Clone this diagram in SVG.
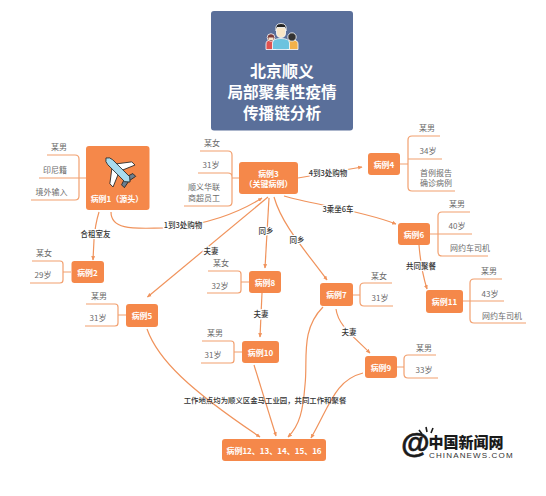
<svg xmlns="http://www.w3.org/2000/svg" width="546" height="496" viewBox="0 0 546 496">
<style>
text{font-family:"Noto Sans CJK SC","Noto Sans",sans-serif;text-anchor:middle;dominant-baseline:central}
.box{fill:#f5884a}
.n{fill:#fff;font-size:8px;font-weight:700}
.a{fill:#6b6b6b;font-size:8px}
.s{fill:#6b6b6b;font-size:8px;text-anchor:start}
.b{fill:none;stroke:#f2a06f;stroke-width:1.2}
.c{fill:none;stroke:#f0935c;stroke-width:1.2;marker-end:url(#ah)}
.l{fill:#333;font-size:7.5px;font-weight:500;paint-order:stroke;stroke:#fff;stroke-width:2.5px}
</style>
<defs>
<marker id="ah" viewBox="0 0 8 8" refX="7" refY="4" markerWidth="4.5" markerHeight="4.5" orient="auto" markerUnits="userSpaceOnUse"><path d="M0 0.5L8 4L0 7.500Z" fill="#f0935c"/></marker>
</defs>
<rect width="546" height="496" fill="#fff"/>

<g id="title">
<rect x="211" y="11" width="142" height="119.500" rx="3" fill="#5a6f9a"/>
<g id="people" stroke="#fff" stroke-width=".8">
<path d="M266 49.500V44q0-4 5-4t5 4V49.500Z" fill="#e0524f"/>
<circle cx="271" cy="37.500" r="3.800" fill="#7a3b3b"/>
<path d="M268.500 37.500h5v2.500h-5z" fill="#f7e3c8" stroke="none"/>
<path d="M287 49.500V44q0-4 5.500-4t5.500 4V49.500Z" fill="#f3b14a"/>
<circle cx="292" cy="37" r="4.200" fill="#333"/>
<path d="M272.500 49.500V43q0-4.500 8.500-4.500t8.500 4.500V49.500Z" fill="#6cc3df"/>
<path d="M276.500 27h9v6q0 4.500-4.500 4.500t-4.500-4.500Z" fill="#f9e7c7"/>
<path d="M276 31q-1.500-7.500 5-7.500t5 7.500l-1-3.500h-8Z" fill="#222"/>
</g>
<text x="282" y="70" font-size="16" font-weight="700" fill="#fff">北京顺义</text>
<text x="282" y="91" font-size="15.600" font-weight="700" fill="#fff">局部聚集性疫情</text>
<text x="282" y="112" font-size="15.600" font-weight="700" fill="#fff">传播链分析</text>
</g>

<g id="connectors">
<path class="c" d="M99 212Q95 225 94 240L93 260"/>
<path class="c" d="M111 212C111 232 140 228 165 228C205 226 240 212 262 198"/>
<path class="c" d="M298 178L362 167"/>
<path class="c" d="M284 196C310 204 360 210 396 224"/>
<path class="c" d="M268 197L147.500 297"/>
<path class="c" d="M269 198L265 268"/>
<path class="c" d="M274 197C282 225 305 250 327 280"/>
<path class="c" d="M419 245Q421 270 427 289"/>
<path class="c" d="M262 293L260 337"/>
<path class="c" d="M147 329C158 360 190 390 260 437"/>
<path class="c" d="M254 365L276 436"/>
<path class="c" d="M323 307C300 330 308 360 305 385C303 410 300 425 288 437"/>
<path class="c" d="M363 373C335 380 330 405 311 438"/>
<path class="c" d="M336 309C338 325 352 335 370 353"/>
<text class="l" x="95.500" y="233">合租室友</text>
<text class="l" x="183" y="224">1到3处购物</text>
<text class="l" x="328" y="172">4到3处购物</text>
<text class="l" x="338" y="208">3乘坐6车</text>
<text class="l" x="211" y="250">夫妻</text>
<text class="l" x="266" y="230">同乡</text>
<text class="l" x="297" y="239">同乡</text>
<text class="l" x="421" y="265">共同聚餐</text>
<text class="l" x="261" y="313">夫妻</text>
<text class="l" x="349" y="331">夫妻</text>
<text x="265" y="399" fill="#333" font-size="7.400" font-weight="500">工作地点均为顺义区金马工业园，共同工作和聚餐</text>
</g>

<g id="case1">
<rect class="box" x="86" y="146" width="63.500" height="64" rx="3"/>
<g id="plane" transform="translate(118 170) rotate(45)" stroke="#222" stroke-width=".8" stroke-linejoin="round">
<path d="M-6 -2.500L4 -15.500H8.500L3 -2.500Z" fill="#fff"/>
<path d="M-6 2.500L4 15.500H8.500L3 2.500Z" fill="#fff"/>
<path d="M11 -2L13 -8H17L15.500 0L17 8H13L11 2Z" fill="#6d7f8f"/>
<path d="M-17 0Q-15 -3.500 -11 -3.500H13L17 0L13 3.500H-11Q-15 3.500 -17 0Z" fill="#a9dcef"/>
</g>
<text class="n" x="117" y="198.500">病例1（源头）</text>
<path class="b" d="M47 155H75q4 0 4 4V196q0 4-4 4H31M39 178H86"/>
<text class="a" x="59" y="146">某男</text>
<text class="a" x="55" y="169">印尼籍</text>
<text class="a" x="51.500" y="191">境外输入</text>
</g>

<g id="case2">
<rect class="box" x="71.500" y="261" width="32.500" height="22" rx="3"/>
<text class="n" x="87.500" y="272">病例2</text>
<path class="b" d="M32 261H60q3 0 3 3V280q0 3-3 3H30M63 272H71"/>
<text class="a" x="44" y="252">某女</text>
<text class="a" x="43" y="274">29岁</text>
</g>

<g id="case3">
<rect class="box" x="239" y="162" width="59" height="32" rx="3"/>
<text class="n" x="268.500" y="173">病例3</text>
<text class="n" x="268.500" y="183.500">（关键病例）</text>
<path class="b" d="M200 151H228q4 0 4 4V202q0 4-4 4H184M198 173H228q4 0 4 4M232 178H239"/>
<text class="a" x="212" y="142">某女</text>
<text class="a" x="211" y="164">31岁</text>
<text class="a" x="204" y="186">顺义华联</text>
<text class="a" x="204" y="197">商超员工</text>
</g>

<g id="case4">
<rect class="box" x="368" y="153" width="32" height="22" rx="3"/>
<text class="n" x="384" y="164">病例4</text>
<path class="b" d="M440 136H412q-4 0-4 4V187q0 4 4 4H455M442 159H408M400 164H408"/>
<text class="a" x="427" y="127">某男</text>
<text class="a" x="428" y="150">34岁</text>
<text class="s" x="420" y="172">首例报告</text>
<text class="s" x="420" y="182">确诊病例</text>
</g>

<g id="case5">
<rect class="box" x="126" y="304" width="32" height="23" rx="3"/>
<text class="n" x="142" y="315.500">病例5</text>
<path class="b" d="M86 304H115q3 0 3 3V323q0 3-3 3H85M118 315H126"/>
<text class="a" x="99" y="295">某男</text>
<text class="a" x="98" y="317">31岁</text>
</g>

<g id="case6">
<rect class="box" x="398" y="223" width="32" height="22" rx="3"/>
<text class="n" x="414" y="234">病例6</text>
<path class="b" d="M470 212H442q-4 0-4 4V252q0 4 4 4H488M472 234H430"/>
<text class="a" x="457" y="203">某男</text>
<text class="a" x="457" y="225">40岁</text>
<text class="s" x="450" y="247.500">网约车司机</text>
</g>

<g id="case7">
<rect class="box" x="320" y="283" width="33" height="23" rx="3"/>
<text class="n" x="336.500" y="294.500">病例7</text>
<path class="b" d="M392 283H364q-4 0-4 4V302q0 4 4 4H393M353 295H360"/>
<text class="a" x="379" y="275">某女</text>
<text class="a" x="380" y="297">31岁</text>
</g>

<g id="case8">
<rect class="box" x="249" y="271" width="32" height="22" rx="3"/>
<text class="n" x="265" y="282">病例8</text>
<path class="b" d="M208 271H238q3 0 3 3V290q0 3-3 3H207M241 282H249"/>
<text class="a" x="221" y="262">某女</text>
<text class="a" x="220" y="285">32岁</text>
</g>

<g id="case9">
<rect class="box" x="365" y="356" width="32" height="22" rx="3"/>
<text class="n" x="381" y="367">病例9</text>
<path class="b" d="M436 355H408q-4 0-4 4V374q0 4 4 4H438M397 367H404"/>
<text class="a" x="424" y="347">某男</text>
<text class="a" x="424" y="369">33岁</text>
</g>

<g id="case10">
<rect class="box" x="242" y="341" width="37" height="22" rx="3"/>
<text class="n" x="260.500" y="352">病例10</text>
<path class="b" d="M202 341H231q3 0 3 3V360q0 3-3 3H201M234 352H242"/>
<text class="a" x="215" y="332">某男</text>
<text class="a" x="213" y="354">31岁</text>
</g>

<g id="case11">
<rect class="box" x="426" y="290" width="37" height="23" rx="3"/>
<text class="n" x="444.500" y="301.500">病例11</text>
<path class="b" d="M502 279H474q-4 0-4 4V319q0 4 4 4H526M504 301H463"/>
<text class="a" x="489" y="270">某男</text>
<text class="a" x="490" y="293">43岁</text>
<text class="s" x="482" y="315">网约车司机</text>
</g>

<g id="case12">
<rect class="box" x="222" y="439" width="104" height="22" rx="3"/>
<text class="n" x="274" y="450">病例12、13、14、15、16</text>
</g>

<g id="logo">
<text x="415.500" y="443" font-size="29" font-weight="700" fill="#1a1a1a" stroke="#1a1a1a" stroke-width=".7" style="font-family:'Liberation Sans',sans-serif">@</text>
<path d="M419 430L422 434M426 427L427 432M433 428L431 433" stroke="#1a1a1a" stroke-width="1.600" fill="none"/>
<text x="466" y="441" font-size="15" font-weight="900" fill="#1a1a1a">中国新闻网</text>
<text x="429" y="455" font-size="8" fill="#333" letter-spacing="1.150" style="font-family:'Liberation Sans',sans-serif;text-anchor:start">CHINANEWS.COM</text>
</g>
</svg>
